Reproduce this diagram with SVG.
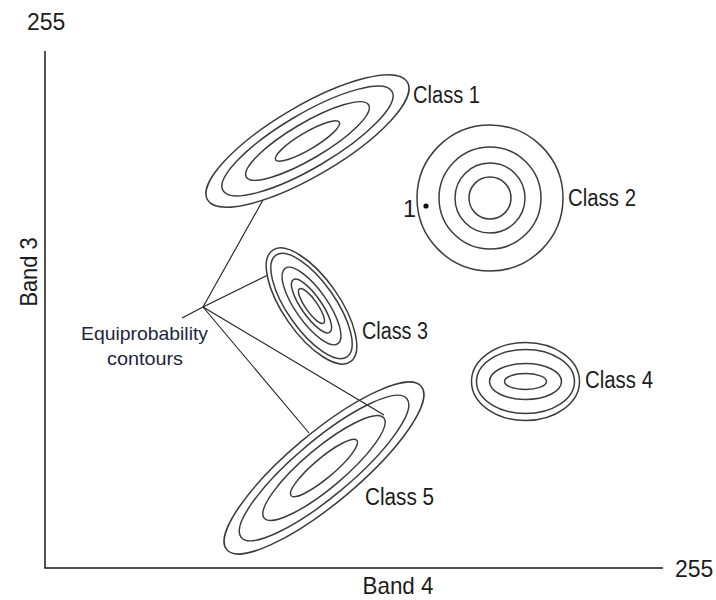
<svg xmlns="http://www.w3.org/2000/svg" width="716" height="600" viewBox="0 0 716 600">
  <style>
    .ring { fill: none; stroke: #3c3c3c; stroke-width: 1.5; }
    .axis { fill: none; stroke: #1a1a1a; stroke-width: 1.5; }
    .lead { fill: none; stroke: #1e1e1e; stroke-width: 1.1; }
    text { font-family: "Liberation Sans", Arial, sans-serif; fill: #1c1c1c; }
    .lbl { font-size: 23.5px; }
    .ax { font-size: 24px; }
    .num { font-size: 23px; }
    .note { font-size: 18.5px; fill: #1f2540; }
  </style>
  <rect width="716" height="600" fill="#ffffff"/>

  <!-- axes -->
  <g id="axes">
    <path class="axis" d="M45,51 V568 H663"/>
    <text class="num" x="27" y="30">255</text>
    <text class="num" x="675" y="577">255</text>
    <text class="ax" x="398" y="594" text-anchor="middle" textLength="71" lengthAdjust="spacingAndGlyphs">Band 4</text>
    <text class="ax" transform="translate(37,272) rotate(-90)" text-anchor="middle" textLength="69" lengthAdjust="spacingAndGlyphs">Band 3</text>
  </g>

  <!-- leader lines from the annotation -->
  <g id="connectors">
    <line class="lead" x1="203" y1="307" x2="263" y2="200"/>
    <line class="lead" x1="203" y1="307" x2="268" y2="275"/>
    <line class="lead" x1="203" y1="307" x2="309" y2="433"/>
    <line class="lead" x1="203" y1="307" x2="384" y2="415"/>
    <line class="lead" x1="203" y1="307" x2="182" y2="318"/>
  </g>

  <g id="class1">
    <g transform="translate(307.5,141) rotate(-30.5)">
      <ellipse class="ring" rx="116" ry="35"/>
      <ellipse class="ring" rx="98" ry="27"/>
      <ellipse class="ring" rx="71" ry="18"/>
      <ellipse class="ring" rx="37" ry="8.5"/>
    </g>
    <text class="lbl" x="413" y="103" textLength="67" lengthAdjust="spacingAndGlyphs">Class 1</text>
  </g>

  <g id="class2">
    <circle class="ring" cx="490" cy="198" r="73"/>
    <circle class="ring" cx="490" cy="198" r="51"/>
    <circle class="ring" cx="490" cy="198" r="35"/>
    <circle class="ring" cx="490" cy="198" r="21"/>
    <circle cx="426" cy="206" r="2.6" fill="#111"/>
    <text class="lbl" x="403" y="217">1</text>
    <text class="lbl" x="568" y="206" textLength="68" lengthAdjust="spacingAndGlyphs">Class 2</text>
  </g>

  <g id="class3">
    <g transform="translate(311.5,306) rotate(55)">
      <ellipse class="ring" rx="68" ry="28"/>
      <ellipse class="ring" rx="62" ry="24"/>
      <ellipse class="ring" rx="46" ry="16"/>
      <ellipse class="ring" rx="32" ry="10"/>
      <ellipse class="ring" rx="21" ry="6"/>
    </g>
    <text class="lbl" x="362" y="339" textLength="66" lengthAdjust="spacingAndGlyphs">Class 3</text>
  </g>

  <g id="class4">
    <ellipse class="ring" cx="525.5" cy="381.5" rx="54" ry="39"/>
    <ellipse class="ring" cx="525.5" cy="381.5" rx="49" ry="32"/>
    <ellipse class="ring" cx="525.5" cy="381.5" rx="36" ry="18"/>
    <ellipse class="ring" cx="525.5" cy="381.5" rx="21" ry="8"/>
    <text class="lbl" x="585" y="388" textLength="68" lengthAdjust="spacingAndGlyphs">Class 4</text>
  </g>

  <g id="class5">
    <g transform="translate(324,468) rotate(-40)">
      <ellipse class="ring" rx="127" ry="35"/>
      <ellipse class="ring" rx="108" ry="28"/>
      <ellipse class="ring" rx="78" ry="20"/>
      <ellipse class="ring" rx="43" ry="10"/>
    </g>
    <text class="lbl" x="365" y="505" textLength="69" lengthAdjust="spacingAndGlyphs">Class 5</text>
  </g>

  <g id="annotation">
    <text class="note" x="81" y="340" textLength="127" lengthAdjust="spacingAndGlyphs">Equiprobability</text>
    <text class="note" x="107" y="365" textLength="76" lengthAdjust="spacingAndGlyphs">contours</text>
  </g>
</svg>
